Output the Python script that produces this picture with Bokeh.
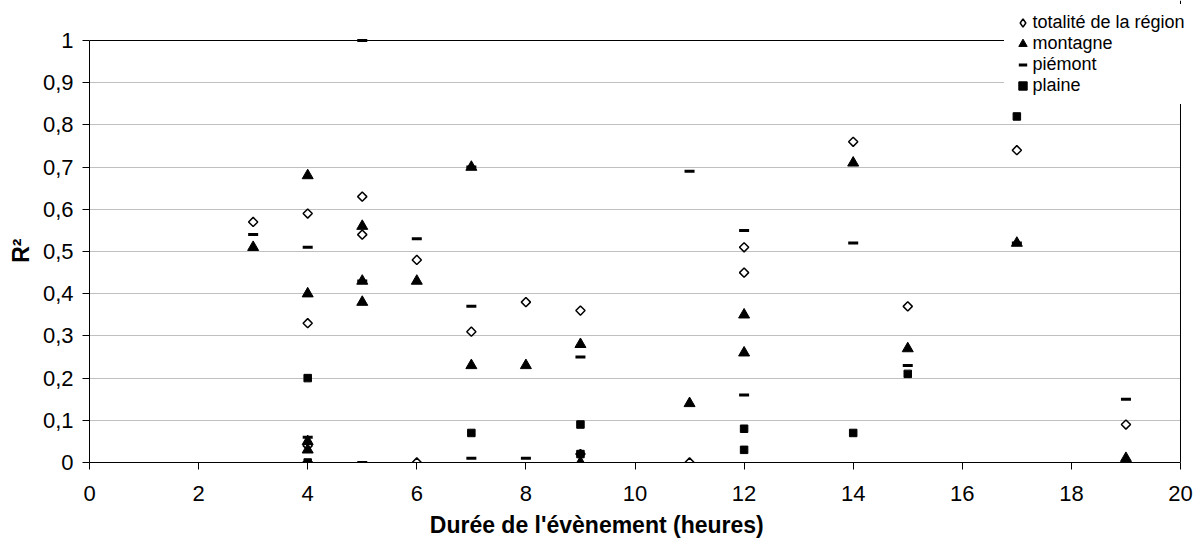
import math
from bokeh.plotting import figure
from bokeh.models import (Legend, LegendItem, FixedTicker, CustomJSTickFormatter, Range1d,
                          Span, BoxAnnotation)
from bokeh.embed import file_html
from bokeh.resources import INLINE

# ---- data ----
tot_x = [3, 4, 4, 4, 5, 5, 6, 6, 7, 8, 9, 9, 11, 12, 12, 14, 15, 17, 19]
tot_y = [0.57, 0.59, 0.33, 0.04, 0.63, 0.54, 0.48, 0.0, 0.31, 0.38, 0.36, 0.02, 0.0, 0.51, 0.45, 0.76, 0.37, 0.74, 0.09]

mon_x = [3, 4, 4, 4, 4, 5, 5, 5, 6, 7, 7, 8, 9, 9, 11, 12, 12, 14, 15, 17, 19]
mon_y = [0.51, 0.68, 0.40, 0.05, 0.03, 0.56, 0.43, 0.38, 0.43, 0.70, 0.23, 0.23, 0.28, 0.0, 0.14, 0.35, 0.26, 0.71, 0.27, 0.52, 0.01]

pie_x = [3, 4, 4, 4, 5, 5, 5, 6, 7, 7, 7, 8, 9, 11, 12, 12, 14, 15, 17, 19]
pie_y = [0.54, 0.51, 0.06, 0.0, 1.0, 0.43, 0.0, 0.53, 0.70, 0.37, 0.01, 0.01, 0.25, 0.69, 0.55, 0.16, 0.52, 0.23, 0.52, 0.15]

pla_x = [4, 4, 7, 9, 9, 12, 12, 14, 15, 17]
pla_y = [0.20, 0.0, 0.07, 0.09, 0.02, 0.08, 0.03, 0.07, 0.21, 0.82]

series_names = ["totalité de la région", "montagne", "piémont", "plaine"]
x_title = "Durée de l'évènement (heures)"
y_title = "R²"
x_ticks = [0, 2, 4, 6, 8, 10, 12, 14, 16, 18, 20]
y_ticks = [0, 0.1, 0.2, 0.3, 0.4, 0.5, 0.6, 0.7, 0.8, 0.9, 1.0]
x_min, x_max = 0, 20
y_min, y_max = 0, 1

FONT = "Liberation Sans"
W, H = 1193, 543
PL, PT, PR, PB = 89, 40, 1180, 462   # plot-area edges in page pixels

# the frame is extended to the top and right page edges so the legend (which the
# reference draws partly outside the plot area) is not clipped; the scales are set so
# that the data window 0..20 x 0..1 still maps onto the reference plot area.
x_end = x_max + (W - PR) * (x_max - x_min) / (PR - PL)
y_end = y_max + PT * (y_max - y_min) / (PB - PT)

p = figure(width=W, height=H, output_backend="svg", toolbar_location=None,
           x_range=Range1d(x_min, x_end), y_range=Range1d(y_min, y_end),
           min_border_left=PL, min_border_right=0,
           min_border_top=0, min_border_bottom=H - PB,
           x_axis_label=x_title + "\u00a0" * 14, y_axis_label=y_title + "\u00a0" * 6)

p.background_fill_color = "white"
p.border_fill_color = "white"
p.outline_line_color = None

p.xgrid.visible = False
p.ygrid.grid_line_color = "#c0c0c0"
p.ygrid.grid_line_width = 1
p.ygrid.ticker = FixedTicker(ticks=y_ticks)

p.xaxis.ticker = FixedTicker(ticks=x_ticks)
p.yaxis.ticker = FixedTicker(ticks=y_ticks)
p.xaxis.bounds = (x_min, x_max)
p.yaxis.bounds = (y_min, y_max)
p.yaxis.formatter = CustomJSTickFormatter(
    code="var s = tick.toFixed(1).replace('.', ','); if (s.endsWith(',0')) { s = s.slice(0, -2); } return s;")

for ax in (p.xaxis, p.yaxis):
    ax.axis_line_color = "black"
    ax.axis_line_width = 1
    ax.major_tick_line_color = "black"
    ax.minor_tick_line_color = None
    ax.major_tick_in = 0
    ax.major_tick_out = 7
    ax.major_label_text_font = FONT
    ax.major_label_text_font_size = "22px"
    ax.major_label_text_color = "black"
    ax.axis_label_text_font = FONT
    ax.axis_label_text_font_size = "23px"
    ax.axis_label_text_font_style = "bold"
    ax.axis_label_text_color = "black"

p.xaxis.major_label_standoff = 16
p.yaxis.major_label_standoff = 9
p.xaxis.axis_label_standoff = 8
p.yaxis.axis_label_standoff = 6

# white out the area right of the plot area, then draw the plot-area border
p.add_layout(BoxAnnotation(left=x_max, fill_color="white", fill_alpha=1, line_alpha=0))
p.add_layout(Span(location=y_max, dimension="width", line_color="black", line_width=1))
p.add_layout(Span(location=x_max, dimension="height", line_color="black", line_width=1))

r_tot = p.scatter(tot_x, tot_y, marker="square", angle=math.pi / 4, size=6.5,
                  fill_color="white", line_color="black", line_width=1.5)
r_mon = p.scatter(mon_x, mon_y, marker="triangle", size=11,
                  fill_color="black", line_color="black", line_width=1)
r_pie = p.scatter(pie_x, pie_y, marker="dash", size=10,
                  line_color="black", line_width=3)
r_pla = p.scatter(pla_x, pla_y, marker="square", size=7.5,
                  fill_color="black", line_color="black", line_width=1)

# legend swatch for the diamond series (legend glyphs ignore marker angle);
# same data, hidden in the plot, only used to draw the legend key
r_tot_key = p.scatter(tot_x, tot_y, marker="diamond", size=10,
                      fill_color="white", line_color="black", line_width=1.5)
r_tot_key.visible = False

legend = Legend(items=[LegendItem(label=series_names[0], renderers=[r_tot_key]),
                       LegendItem(label=series_names[1], renderers=[r_mon]),
                       LegendItem(label=series_names[2], renderers=[r_pie]),
                       LegendItem(label=series_names[3], renderers=[r_pla])],
                location=(1003.5 - PL, PB - 104))
legend.glyph_width = 21
legend.glyph_height = 21
legend.label_height = 21
legend.spacing = 0
legend.label_standoff = 0
legend.padding = 8
legend.margin = 0
legend.border_line_alpha = 0
legend.background_fill_color = "white"
legend.background_fill_alpha = 1
legend.inactive_fill_alpha = 0
legend.label_text_font = FONT
legend.label_text_font_size = "18px"
legend.label_text_color = "black"
p.add_layout(legend)

open("out.html", "w").write(file_html(p, INLINE))
